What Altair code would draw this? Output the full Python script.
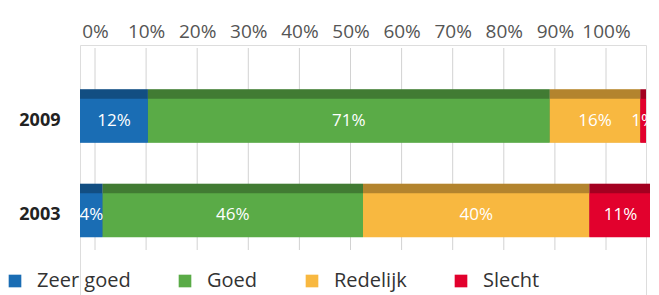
import altair as alt
import pandas as pd

years = ["2009", "2003"]
categories = ["Zeer goed", "Goed", "Redelijk", "Slecht"]
values_2009 = [12, 71, 16, 1]
values_2003 = [4, 46, 40, 11]
colors = ["#1a6db4", "#5aab47", "#f8b840", "#e2012d"]
ticks = [0, 10, 20, 30, 40, 50, 60, 70, 80, 90, 100]

rows = []
for y, vals in zip(years, [values_2009, values_2003]):
    for i, (c, v) in enumerate(zip(categories, vals)):
        rows.append({"year": y, "cat": c, "value": v, "idx": i, "label": f"{v}%"})
df = pd.DataFrame(rows)
df_years = pd.DataFrame({"year": years, "start": [0, 0], "end": [100, 101]})
df_ticks = pd.DataFrame({"t": ticks})

FONT = "Open Sans"
xs_bar = alt.Scale(domain=[0, 100], range=[0, 566], nice=False, zero=False)
xs_axis = alt.Scale(domain=[0, 100], range=[15, 526], nice=False, zero=False)
ys = alt.Scale(domain=years, range=[0, 236], paddingInner=0.44, paddingOuter=0.47)
cs = alt.Scale(domain=categories, range=colors)

yaxis = alt.Axis(title=None, domain=False, ticks=False, grid=False, labelFontSize=18,
                 labelFontWeight="bold", labelColor="#222", labelFont=FONT,
                 labelPadding=20, labelOffset=5)

grid = alt.Chart(df_ticks).mark_rule(color="#d2d2d2", strokeWidth=1).encode(
    x=alt.X("t:Q", scale=xs_axis,
            axis=alt.Axis(orient="top", values=ticks, labelExpr="datum.value + '%'",
                          domain=False, ticks=False, grid=False, title=None,
                          labelFontSize=19, labelColor="#555", labelFont=FONT,
                          labelPadding=4, labelOverlap=False, labelFlush=False)),
    y=alt.value(3),
    y2=alt.value(205),
)

top_face = alt.Chart(df).mark_bar(size=53).encode(
    x=alt.X("value:Q", stack="zero", scale=xs_bar, axis=None),
    y=alt.Y("year:N", scale=ys, axis=yaxis, sort=years),
    color=alt.Color("cat:N", scale=cs, sort=categories,
                    legend=alt.Legend(title=None, orient="none", legendX=-75, legendY=226,
                                      direction="horizontal", symbolType="square",
                                      symbolSize=160, symbolStrokeWidth=0,
                                      labelFontSize=20, labelColor="#333", labelFont=FONT,
                                      columnPadding=44, labelOffset=12)),
    order=alt.Order("idx:Q"),
)

shade = alt.Chart(df_years).mark_bar(size=53, color="black", opacity=0.28).encode(
    x=alt.X("start:Q", scale=xs_bar, axis=None),
    x2="end:Q",
    y=alt.Y("year:N", scale=ys, sort=years, axis=yaxis),
)

front = alt.Chart(df).mark_bar(size=44, yOffset=5).encode(
    x=alt.X("value:Q", stack="zero", scale=xs_bar, axis=None),
    y=alt.Y("year:N", scale=ys, sort=years, axis=yaxis),
    color=alt.Color("cat:N", scale=cs, sort=categories, legend=None),
    order=alt.Order("idx:Q"),
)

labels = alt.Chart(df).transform_stack(
    stack="value", groupby=["year"], as_=["v0", "v1"], sort=[alt.SortField("idx")]
).transform_calculate(mid="(datum.v0 + datum.v1) / 2").mark_text(
    color="white", fontSize=17, font=FONT, yOffset=5
).encode(
    x=alt.X("mid:Q", scale=xs_bar, axis=None),
    y=alt.Y("year:N", scale=ys, sort=years, axis=yaxis),
    text="label:N",
)

chart = alt.layer(grid, top_face, shade, front, labels).resolve_scale(
    x="independent"
).properties(
    width=566, height=250,
    autosize=alt.AutoSizeParams(type="none"),
    padding={"left": 72, "top": 37, "right": 4, "bottom": 0},
).configure_view(stroke=None).configure(background="white")

chart.save("out.html", embed_options={"renderer": "svg", "actions": False})
